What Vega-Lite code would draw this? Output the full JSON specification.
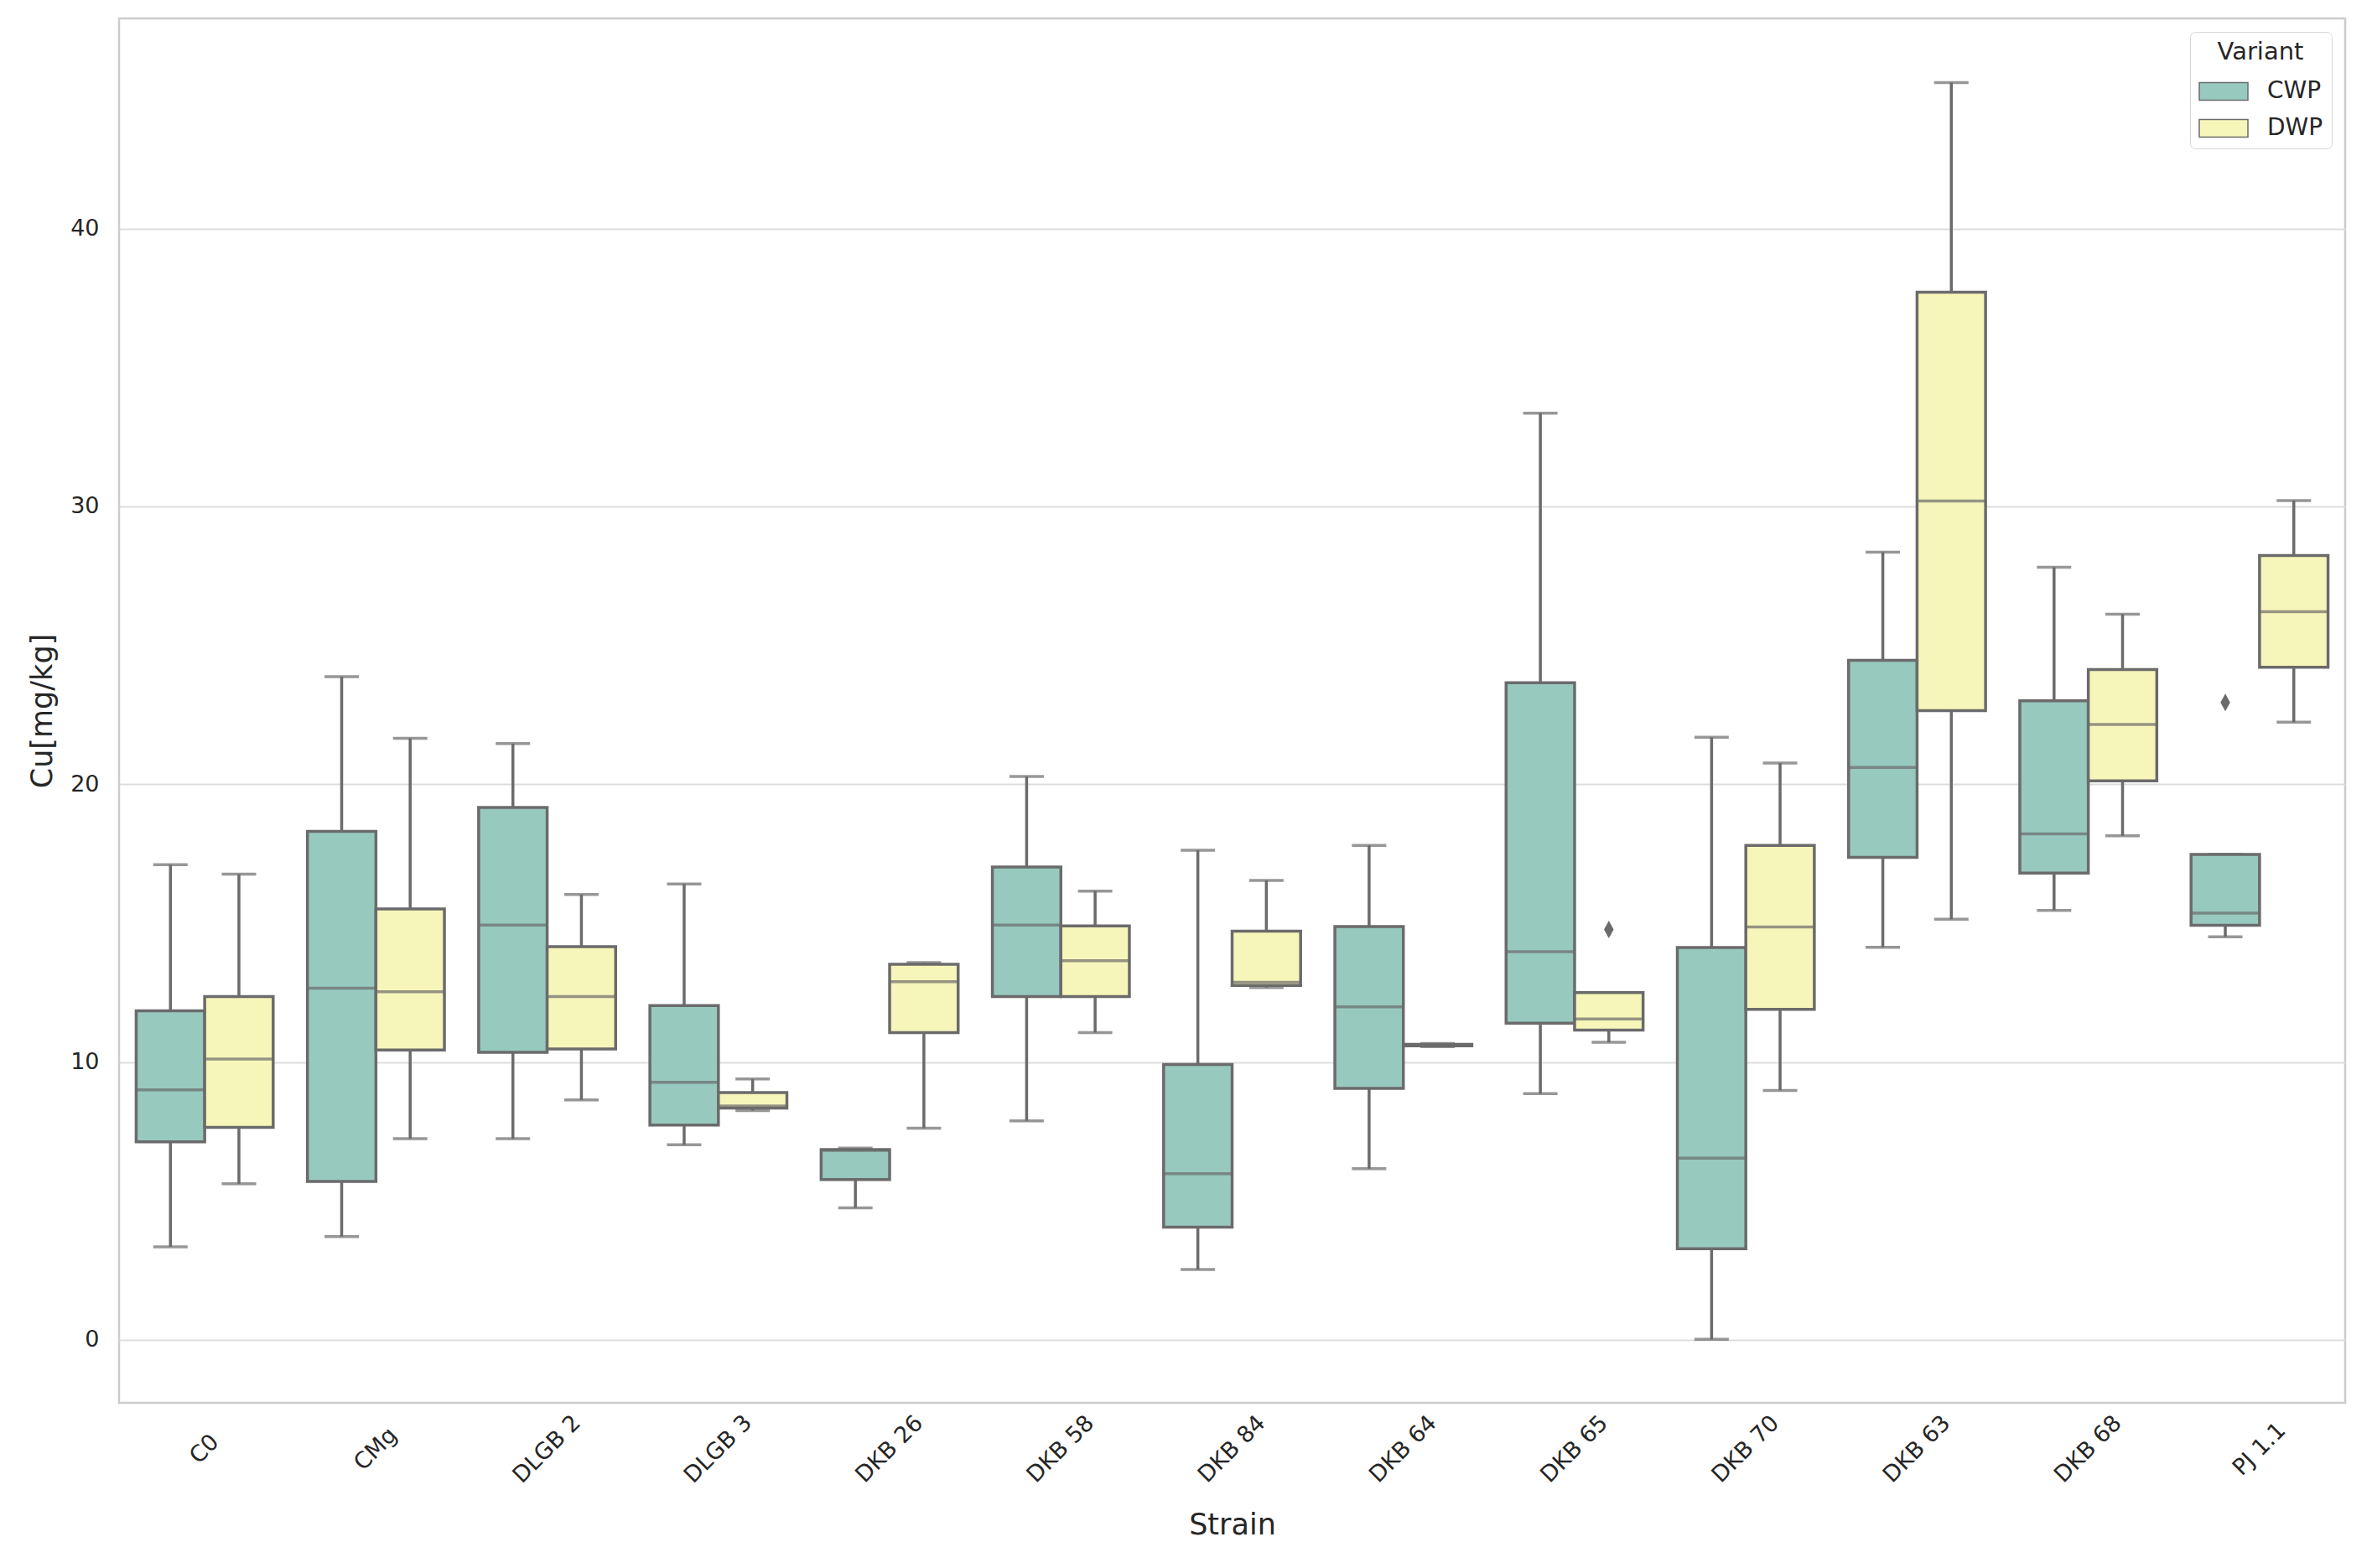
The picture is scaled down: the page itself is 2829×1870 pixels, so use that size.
{
  "$schema": "https://vega.github.io/schema/vega-lite/v6.json",
  "autosize": {"type": "none"},
  "padding": {"left": 142, "top": 22, "right": 32, "bottom": 197},
  "width": 2655,
  "height": 1651,
  "background": "white",
  "config": {
    "font": "DejaVu Sans",
    "view": {"stroke": "#cccccc", "strokeWidth": 2.5},
    "axisX": {
      "labelAngle": -45, "labelAlign": "center", "labelBaseline": "middle", "labelPadding": 55,
      "ticks": false, "domain": false, "grid": false, "labelFontSize": 27, "labelColor": "#262626",
      "titleFontSize": 35, "titleColor": "#262626", "titleFontWeight": "normal",
      "titleY": 128, "titleBaseline": "top", "labelOverlap": false, "labelBound": false, "labelFlush": false
    },
    "axisY": {
      "ticks": false, "domain": false, "grid": true, "gridColor": "#dddddd", "gridWidth": 2,
      "labelFontSize": 27, "labelPadding": 24, "labelColor": "#262626",
      "titleFontSize": 35, "titleColor": "#262626", "titleFontWeight": "normal",
      "titleX": -81, "titleBaseline": "alphabetic"
    },
    "legend": {
      "orient": "none", "legendX": 2470, "legendY": 16,
      "titleFontSize": 29, "titleFontWeight": "normal", "titleColor": "#262626",
      "labelFontSize": 28, "labelColor": "#262626", "padding": 10,
      "strokeColor": "#d6d6d6", "fillColor": "white", "cornerRadius": 6,
      "titleAnchor": "middle", "rowPadding": -23, "labelOffset": 22, "titlePadding": 2,
      "symbolType": "M-1,-0.36H1V0.36H-1Z", "symbolSize": 3364,
      "symbolStrokeColor": "#6b6b6b", "symbolStrokeWidth": 1.5
    }
  },
  "datasets": {
    "boxes": [
      {"Strain": "C0", "Variant": "CWP", "lower": 3.35, "q1": 7.13, "median": 9.0, "q3": 11.84, "upper": 17.1},
      {"Strain": "C0", "Variant": "DWP", "lower": 5.62, "q1": 7.65, "median": 10.11, "q3": 12.36, "upper": 16.76},
      {"Strain": "CMg", "Variant": "CWP", "lower": 3.72, "q1": 5.7, "median": 12.66, "q3": 18.3, "upper": 23.87},
      {"Strain": "CMg", "Variant": "DWP", "lower": 7.24, "q1": 10.43, "median": 12.53, "q3": 15.51, "upper": 21.65},
      {"Strain": "DLGB 2", "Variant": "CWP", "lower": 7.24, "q1": 10.35, "median": 14.93, "q3": 19.16, "upper": 21.46},
      {"Strain": "DLGB 2", "Variant": "DWP", "lower": 8.64, "q1": 10.47, "median": 12.36, "q3": 14.15, "upper": 16.03},
      {"Strain": "DLGB 3", "Variant": "CWP", "lower": 7.02, "q1": 7.73, "median": 9.27, "q3": 12.03, "upper": 16.41},
      {"Strain": "DLGB 3", "Variant": "DWP", "lower": 8.25, "q1": 8.34, "median": 8.42, "q3": 8.9, "upper": 9.39},
      {"Strain": "DKB 26", "Variant": "CWP", "lower": 4.75, "q1": 5.77, "median": 6.82, "q3": 6.85, "upper": 6.9},
      {"Strain": "DKB 26", "Variant": "DWP", "lower": 7.62, "q1": 11.06, "median": 12.89, "q3": 13.52, "upper": 13.58},
      {"Strain": "DKB 58", "Variant": "CWP", "lower": 7.88, "q1": 12.36, "median": 14.93, "q3": 17.02, "upper": 20.28},
      {"Strain": "DKB 58", "Variant": "DWP", "lower": 11.06, "q1": 12.36, "median": 13.65, "q3": 14.9, "upper": 16.15},
      {"Strain": "DKB 84", "Variant": "CWP", "lower": 2.53, "q1": 4.06, "median": 5.98, "q3": 9.91, "upper": 17.62},
      {"Strain": "DKB 84", "Variant": "DWP", "lower": 12.68, "q1": 12.76, "median": 12.87, "q3": 14.71, "upper": 16.54},
      {"Strain": "DKB 64", "Variant": "CWP", "lower": 6.16, "q1": 9.05, "median": 11.99, "q3": 14.88, "upper": 17.8},
      {"Strain": "DKB 64", "Variant": "DWP", "lower": 10.55, "q1": 10.58, "median": 10.61, "q3": 10.64, "upper": 10.67},
      {"Strain": "DKB 65", "Variant": "CWP", "lower": 8.86, "q1": 11.4, "median": 13.97, "q3": 23.65, "upper": 33.35},
      {"Strain": "DKB 65", "Variant": "DWP", "lower": 10.71, "q1": 11.15, "median": 11.55, "q3": 12.5, "upper": 12.5},
      {"Strain": "DKB 70", "Variant": "CWP", "lower": 0.02, "q1": 3.28, "median": 6.54, "q3": 14.12, "upper": 21.69},
      {"Strain": "DKB 70", "Variant": "DWP", "lower": 8.98, "q1": 11.9, "median": 14.86, "q3": 17.8, "upper": 20.76},
      {"Strain": "DKB 63", "Variant": "CWP", "lower": 14.13, "q1": 17.37, "median": 20.6, "q3": 24.46, "upper": 28.35},
      {"Strain": "DKB 63", "Variant": "DWP", "lower": 15.14, "q1": 22.65, "median": 30.19, "q3": 37.71, "upper": 45.25},
      {"Strain": "DKB 68", "Variant": "CWP", "lower": 15.46, "q1": 16.8, "median": 18.21, "q3": 23.0, "upper": 27.81},
      {"Strain": "DKB 68", "Variant": "DWP", "lower": 18.14, "q1": 20.12, "median": 22.15, "q3": 24.13, "upper": 26.12},
      {"Strain": "PJ 1.1", "Variant": "CWP", "lower": 14.51, "q1": 14.92, "median": 15.36, "q3": 17.47, "upper": 17.47},
      {"Strain": "PJ 1.1", "Variant": "DWP", "lower": 22.23, "q1": 24.21, "median": 26.21, "q3": 28.23, "upper": 30.21}
    ],
    "outliers": [
      {"Strain": "DKB 65", "Variant": "DWP", "value": 14.77},
      {"Strain": "PJ 1.1", "Variant": "CWP", "value": 22.94}
    ]
  },
  "encoding": {
    "x": {
      "field": "Strain", "type": "nominal", "title": "Strain",
      "sort": ["C0", "CMg", "DLGB 2", "DLGB 3", "DKB 26", "DKB 58", "DKB 84", "DKB 64", "DKB 65", "DKB 70", "DKB 63", "DKB 68", "PJ 1.1"],
      "scale": {"domain": ["C0", "CMg", "DLGB 2", "DLGB 3", "DKB 26", "DKB 58", "DKB 84", "DKB 64", "DKB 65", "DKB 70", "DKB 63", "DKB 68", "PJ 1.1"], "paddingInner": 0, "paddingOuter": 0}
    },
    "xOffset": {
      "field": "Variant", "type": "nominal",
      "scale": {"domain": ["CWP", "DWP"], "paddingInner": 0, "paddingOuter": 0.25}
    }
  },
  "layer": [
    {
      "data": {"name": "boxes"},
      "mark": {"type": "rule", "color": "#6b6b6b", "strokeWidth": 3.5},
      "encoding": {
        "y": {"field": "lower", "type": "quantitative", "title": "Cu[mg/kg]", "scale": {"domain": [-2.265, 47.56], "nice": false, "zero": false}, "axis": {"values": [0, 10, 20, 30, 40]}},
        "y2": {"field": "q1"}
      }
    },
    {
      "data": {"name": "boxes"},
      "mark": {"type": "rule", "color": "#6b6b6b", "strokeWidth": 3.5},
      "encoding": {
        "y": {"field": "q3", "type": "quantitative", "title": "Cu[mg/kg]", "axis": {"values": [0, 10, 20, 30, 40]}},
        "y2": {"field": "upper"}
      }
    },
    {
      "data": {"name": "boxes"},
      "mark": {"type": "tick", "color": "#6b6b6b", "size": 41, "thickness": 3.5},
      "encoding": {
        "y": {"field": "lower", "type": "quantitative", "title": "Cu[mg/kg]", "axis": {"values": [0, 10, 20, 30, 40]}}
      }
    },
    {
      "data": {"name": "boxes"},
      "mark": {"type": "tick", "color": "#6b6b6b", "size": 41, "thickness": 3.5},
      "encoding": {
        "y": {"field": "upper", "type": "quantitative", "title": "Cu[mg/kg]", "axis": {"values": [0, 10, 20, 30, 40]}}
      }
    },
    {
      "data": {"name": "boxes"},
      "mark": {"type": "bar", "stroke": "#6b6b6b", "strokeWidth": 3.5},
      "encoding": {
        "y": {"field": "q1", "type": "quantitative", "title": "Cu[mg/kg]", "axis": {"values": [0, 10, 20, 30, 40]}},
        "y2": {"field": "q3"},
        "fill": {"field": "Variant", "type": "nominal", "title": "Variant", "scale": {"domain": ["CWP", "DWP"], "range": ["#97c9bf", "#f7f6ba"]}}
      }
    },
    {
      "data": {"name": "boxes"},
      "mark": {"type": "tick", "color": "#6b6b6b", "size": 80, "thickness": 3.5},
      "encoding": {
        "y": {"field": "median", "type": "quantitative", "title": "Cu[mg/kg]", "axis": {"values": [0, 10, 20, 30, 40]}}
      }
    },
    {
      "data": {"name": "outliers"},
      "mark": {"type": "point", "shape": "M0,-1L0.55,0L0,1L-0.55,0Z", "filled": true, "color": "#6b6b6b", "size": 441, "opacity": 1},
      "encoding": {
        "y": {"field": "value", "type": "quantitative", "title": "Cu[mg/kg]", "axis": {"values": [0, 10, 20, 30, 40]}}
      }
    }
  ]
}
